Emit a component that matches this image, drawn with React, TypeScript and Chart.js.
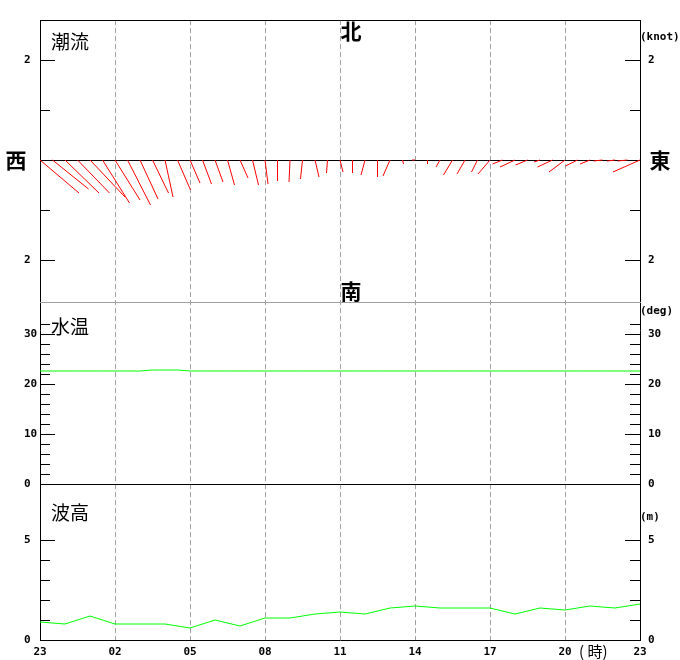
import React, { useEffect, useRef } from "react";
import { Chart, registerables } from "chart.js";

Chart.register(...registerables);

// ---- time axis: hours since 23:00 (0..24) ----
const hourTickLabels = ["23", "02", "05", "08", "11", "14", "17", "20", "23"];
const hourTickStep = 3;

// ---- wave height (m), hourly from 23:00 ----
const waveHeight = [
  0.9, 0.8, 1.2, 0.8, 0.8, 0.8, 0.6, 1.0, 0.7, 1.1, 1.1, 1.3, 1.4,
  1.3, 1.6, 1.7, 1.6, 1.6, 1.6, 1.3, 1.6, 1.5, 1.7, 1.6, 1.8,
];

// ---- water temperature (deg), every 30 min from 23:00 ----
const waterTemp = [
  22.6, 22.6, 22.6, 22.6, 22.6, 22.6, 22.6, 22.6, 22.6, 22.8, 22.8, 22.8, 22.6,
  22.6, 22.6, 22.6, 22.6, 22.6, 22.6, 22.6, 22.6, 22.6, 22.6, 22.6, 22.6,
  22.6, 22.6, 22.6, 22.6, 22.6, 22.6, 22.6, 22.6, 22.6, 22.6, 22.6, 22.6,
  22.6, 22.6, 22.6, 22.6, 22.6, 22.6, 22.6, 22.6, 22.6, 22.6, 22.6, 22.6,
];

// ---- tidal current components (knot), every 30 min from 23:00 ----
const currentEast = [
  0.78, 0.72, 0.68, 0.64, 0.7, 0.54, 0.5, 0.46, 0.36, 0.32, 0.16, 0.26,
  0.2, 0.18, 0.16, 0.14, 0.16, 0.12, 0.06, 0.0, -0.02, -0.04, 0.08, -0.02,
  0.06, 0.0, -0.08, 0.0, -0.14, 0.02, -0.06, 0.0, -0.08, -0.18, -0.16, -0.12,
  -0.24, -0.2, -0.3, -0.24, -0.12, -0.3, -0.32, -0.24, -0.2, -0.18, -0.16, -0.2,
  -0.54,
];
const currentNorth = [
  -0.66, -0.58, -0.66, -0.66, -0.74, -0.86, -0.8, -0.9, -0.78, -0.66, -0.74, -0.6,
  -0.46, -0.48, -0.44, -0.5, -0.36, -0.5, -0.48, -0.42, -0.44, -0.38, -0.34, -0.26,
  -0.24, -0.26, -0.3, -0.34, -0.32, -0.08, 0.0, -0.08, -0.14, -0.3, -0.28, -0.24,
  -0.28, -0.08, -0.14, -0.1, -0.04, -0.14, -0.24, -0.12, -0.08, -0.02, -0.02, -0.02,
  -0.24,
];
const currentStepHours = 0.5;
const tempStepHours = 0.5;

// ---- axis ranges & ticks (each panel shares the full plot height) ----
const currentAxisMin = -9.6;
const currentAxisMax = 2.8;
const currentTicks = [-2, -1, 1, 2];
const currentMajor = 2;

const tempAxisMin = -31.2;
const tempAxisMax = 92.8;
const tempPanelTop = 36.4;
const tempTicks = [0, 2, 4, 6, 8, 10, 12, 14, 16, 18, 20, 22, 24, 26, 28, 30, 32];
const tempMajor = 10;

const waveAxisMin = 0;
const waveAxisMax = 31;
const waveTicks = [0, 1, 2, 3, 4, 5];
const waveMajor = 5;

const TICK_FONT = { family: "'DejaVu Sans Mono', monospace", size: 11, weight: "bold" as const };
const CJK = "'Noto Sans CJK JP', sans-serif";

function isMajor(v: number, step: number) {
  return Math.abs(v / step - Math.round(v / step)) < 1e-9;
}

function yAxis(position: "left" | "right", min: number, max: number, ticks: number[], major: number, labelAbs: boolean, border: boolean) {
  return {
    type: "linear",
    position,
    min,
    max,
    afterBuildTicks: (scale: any) => {
      scale.ticks = ticks.map((v) => ({ value: v }));
    },
    afterFit: (scale: any) => {
      scale.width = position === "left" ? 16 : 40;
    },
    grid: { display: false, drawTicks: false },
    border: { display: border, color: "#000", width: 1 },
    ticks: {
      autoSkip: false,
      padding: 8,
      crossAlign: position === "left" ? "far" : "near",
      color: "#000",
      font: TICK_FONT,
      callback: (v: number) => (isMajor(v, major) ? String(labelAbs ? Math.abs(v) : v) : ""),
    },
  };
}

function xAxis(visible: boolean) {
  return {
    type: "linear",
    position: "bottom",
    min: 0,
    max: 24,
    afterBuildTicks: (scale: any) => {
      scale.ticks = hourTickLabels.map((_, i) => ({ value: i * hourTickStep }));
    },
    afterFit: (scale: any) => {
      scale.height = 20;
    },
    grid: {
      display: visible,
      drawTicks: false,
      drawOnChartArea: true,
      lineWidth: 1,
      color: (ctx: any) =>
        ctx.tick && (ctx.tick.value === 0 || ctx.tick.value === 24) ? "rgba(0,0,0,0)" : "#a0a0a0",
    },
    border: { display: visible, color: "#000", width: 1, dash: [5, 3] },
    ticks: {
      display: visible,
      autoSkip: false,
      maxRotation: 0,
      padding: 6,
      color: "#000",
      font: TICK_FONT,
      callback: (_v: number, i: number) => hourTickLabels[i] ?? "",
    },
  };
}

function inwardTicks(major: number) {
  return {
    id: "inwardTicks",
    afterDraw(chart: any) {
      const { ctx, chartArea } = chart;
      ctx.save();
      ctx.strokeStyle = "#000";
      ctx.lineWidth = 1;
      for (const id of ["y", "y2"]) {
        const s = chart.scales[id];
        const left = s.options.position === "left";
        for (const t of s.ticks) {
          const len = isMajor(t.value, major) ? 15 : 10;
          const y = Math.round(s.getPixelForValue(t.value)) + 0.5;
          ctx.beginPath();
          if (left) {
            ctx.moveTo(chartArea.left, y);
            ctx.lineTo(chartArea.left + len, y);
          } else {
            ctx.moveTo(chartArea.right - len, y);
            ctx.lineTo(chartArea.right, y);
          }
          ctx.stroke();
        }
      }
      ctx.restore();
    },
  };
}

function hLines(lines: { value: number | "top"; color: string }[]) {
  return {
    id: "hLines",
    beforeDatasetsDraw(chart: any) {
      const { ctx, chartArea } = chart;
      const s = chart.scales.y;
      ctx.save();
      ctx.lineWidth = 1;
      for (const l of lines) {
        const yy = l.value === "top" ? chartArea.top : s.getPixelForValue(l.value);
        const y = Math.round(yy) + 0.5;
        ctx.strokeStyle = l.color;
        ctx.beginPath();
        ctx.moveTo(chartArea.left, y);
        ctx.lineTo(chartArea.right + 1, y);
        ctx.stroke();
      }
      ctx.restore();
    },
  };
}

function texts(items: { t: string; x: number; y: number; font: string; align?: CanvasTextAlign }[]) {
  return {
    id: "texts",
    afterDraw(chart: any) {
      const { ctx } = chart;
      ctx.save();
      ctx.fillStyle = "#000";
      ctx.textBaseline = "middle";
      for (const it of items) {
        ctx.font = it.font;
        ctx.textAlign = it.align ?? "left";
        ctx.fillText(it.t, it.x, it.y);
      }
      ctx.restore();
    },
  };
}

const sticks = {
  id: "sticks",
  afterDatasetsDraw(chart: any) {
    const { ctx } = chart;
    const xs = chart.scales.x;
    const ys = chart.scales.y;
    const y0 = ys.getPixelForValue(0);
    const ppk = y0 - ys.getPixelForValue(1);
    ctx.save();
    ctx.strokeStyle = "#ff0000";
    ctx.lineWidth = 1;
    currentEast.forEach((u, k) => {
      const v = currentNorth[k];
      const x0 = xs.getPixelForValue(k * currentStepHours);
      ctx.beginPath();
      ctx.moveTo(x0, y0);
      ctx.lineTo(x0 + u * ppk, y0 - v * ppk);
      ctx.stroke();
    });
    ctx.restore();
  },
};

const baseOpts = {
  responsive: false,
  animation: false,
  devicePixelRatio: 1,
  layout: { padding: { top: 20, left: 24, right: 0, bottom: 0 } },
  plugins: { legend: { display: false }, tooltip: { enabled: false } },
  elements: { point: { radius: 0 }, line: { tension: 0 } },
};

function waveConfig(): any {
  return {
    type: "line",
    data: {
      datasets: [
        {
          data: waveHeight.map((v, i) => ({ x: i, y: v })),
          borderColor: "#00ff00",
          borderWidth: 1,
          pointRadius: 0,
        },
      ],
    },
    options: {
      ...baseOpts,
      scales: {
        x: xAxis(true),
        y: yAxis("left", waveAxisMin, waveAxisMax, waveTicks, waveMajor, false, true),
        y2: yAxis("right", waveAxisMin, waveAxisMax, waveTicks, waveMajor, false, true),
      },
    },
    plugins: [
      inwardTicks(waveMajor),
      texts([
        { t: "波高", x: 51, y: 513, font: `19px ${CJK}` },
        { t: "(m)", x: 640, y: 517, font: `bold 11px 'DejaVu Sans Mono', monospace` },
        { t: "( 時)", x: 579, y: 651, font: `15px ${CJK}` },
      ]),
    ],
  };
}

function tempConfig(): any {
  return {
    type: "line",
    data: {
      datasets: [
        {
          data: waterTemp.map((v, i) => ({ x: i * tempStepHours, y: v })),
          borderColor: "#00ff00",
          borderWidth: 1,
          pointRadius: 0,
        },
      ],
    },
    options: {
      ...baseOpts,
      scales: {
        x: xAxis(false),
        y: yAxis("left", tempAxisMin, tempAxisMax, tempTicks, tempMajor, false, false),
        y2: yAxis("right", tempAxisMin, tempAxisMax, tempTicks, tempMajor, false, false),
      },
    },
    plugins: [
      hLines([
        { value: tempPanelTop, color: "#a0a0a0" },
        { value: 0, color: "#000" },
      ]),
      inwardTicks(tempMajor),
      texts([
        { t: "水温", x: 51, y: 327, font: `19px ${CJK}` },
        { t: "(deg)", x: 640, y: 311, font: `bold 11px 'DejaVu Sans Mono', monospace` },
      ]),
    ],
  };
}

function currentConfig(): any {
  return {
    type: "line",
    data: { datasets: [] },
    options: {
      ...baseOpts,
      scales: {
        x: xAxis(false),
        y: yAxis("left", currentAxisMin, currentAxisMax, currentTicks, currentMajor, true, false),
        y2: yAxis("right", currentAxisMin, currentAxisMax, currentTicks, currentMajor, true, false),
      },
    },
    plugins: [
      hLines([
        { value: "top", color: "#000" },
        { value: 0, color: "#000" },
      ]),
      sticks,
      inwardTicks(currentMajor),
      texts([
        { t: "潮流", x: 51, y: 42, font: `19px ${CJK}` },
        { t: "北", x: 351, y: 31, font: `bold 21px ${CJK}`, align: "center" },
        { t: "南", x: 351, y: 291, font: `bold 21px ${CJK}`, align: "center" },
        { t: "西", x: 16, y: 160, font: `bold 21px ${CJK}`, align: "center" },
        { t: "東", x: 660, y: 160, font: `bold 21px ${CJK}`, align: "center" },
        { t: "(knot)", x: 640, y: 37, font: `bold 11px 'DejaVu Sans Mono', monospace` },
      ]),
    ],
  };
}

export default function App() {
  const waveRef = useRef<HTMLCanvasElement>(null);
  const tempRef = useRef<HTMLCanvasElement>(null);
  const curRef = useRef<HTMLCanvasElement>(null);

  useEffect(() => {
    document.body.style.margin = "0";
    const charts = [
      new Chart(waveRef.current!, waveConfig()),
      new Chart(tempRef.current!, tempConfig()),
      new Chart(curRef.current!, currentConfig()),
    ];
    return () => charts.forEach((c) => c.destroy());
  }, []);

  const cs: React.CSSProperties = { position: "absolute", left: 0, top: 0 };
  return (
    <div style={{ position: "relative", width: 680, height: 660, background: "#fff" }}>
      <canvas ref={waveRef} width={680} height={660} style={cs} />
      <canvas ref={tempRef} width={680} height={660} style={cs} />
      <canvas ref={curRef} width={680} height={660} style={cs} />
    </div>
  );
}
